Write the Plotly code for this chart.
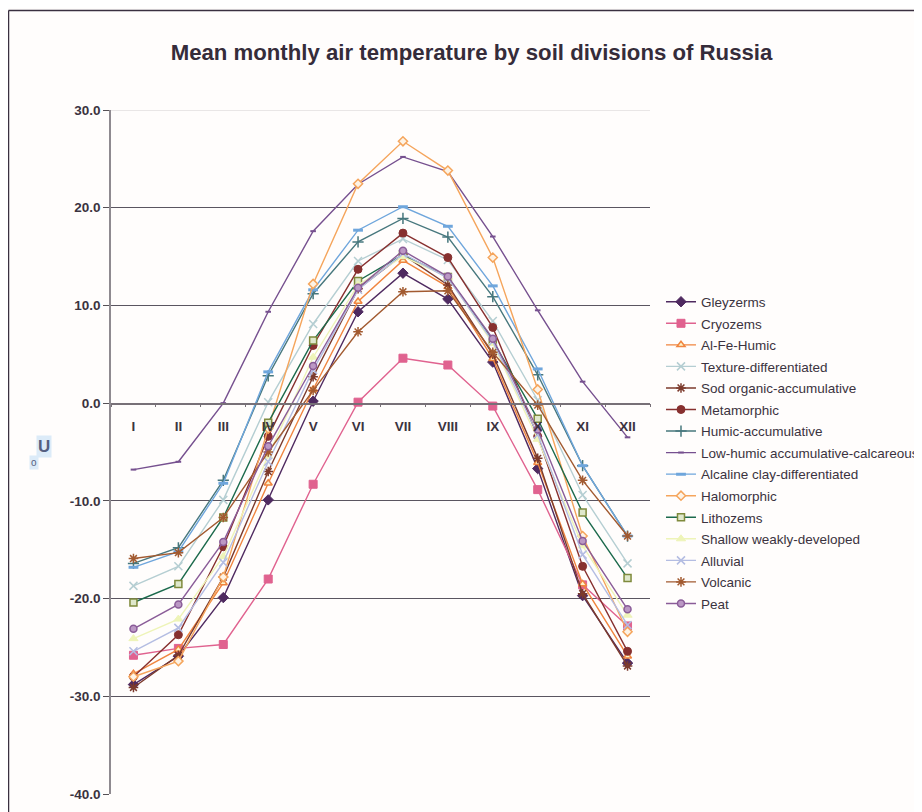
import plotly.graph_objects as go

title = "Mean monthly air temperature by soil divisions of Russia"
months = ["I", "II", "III", "IV", "V", "VI", "VII", "VIII", "IX", "X", "XI", "XII"]

gleyzerms = [-28.8, -25.9, -19.9, -9.9, 0.2, 9.35, 13.3, 10.65, 4.2, -6.7, -19.7, -26.6]
cryozems = [-25.8, -25.1, -24.7, -18.0, -8.3, 0.1, 4.6, 3.9, -0.3, -8.85, -18.6, -22.8]
al_fe_humic = [-27.7, -25.2, -18.4, -8.2, 1.4, 10.4, 14.6, 11.9, 4.55, -6.1, -18.5, -25.9]
texture_diff = [-18.7, -16.7, -9.9, 0.1, 8.1, 14.55, 16.8, 14.65, 8.4, 0.3, -9.4, -16.4]
sod_organic = [-29.1, -25.8, -17.8, -7.0, 2.7, 11.7, 15.2, 12.1, 5.0, -5.65, -19.5, -26.9]
metamorphic = [-28.0, -23.7, -14.7, -3.4, 5.9, 13.7, 17.4, 14.9, 7.75, -3.4, -16.7, -25.4]
humic_accum = [-16.4, -14.8, -7.9, 2.8, 11.2, 16.5, 18.9, 17.0, 10.9, 2.9, -6.4, -13.6]
low_humic = [-6.8, -6.0, 0.0, 9.35, 17.6, 22.4, 25.2, 23.7, 17.05, 9.5, 2.2, -3.5]
alcaline = [-16.8, -15.2, -8.2, 3.2, 11.6, 17.7, 20.1, 18.1, 12.0, 3.5, -6.4, -13.6]
halomorphic = [-28.0, -26.4, -17.8, -2.6, 12.2, 22.45, 26.8, 23.8, 14.9, 1.4, -13.6, -23.4]
lithozems = [-20.4, -18.5, -11.7, -2.0, 6.4, 12.5, 15.2, 12.9, 6.4, -1.6, -11.2, -17.9]
shallow = [-24.1, -22.1, -15.7, -5.4, 4.7, 12.1, 15.0, 12.9, 6.1, -3.7, -14.6, -21.7]
alluvial = [-25.4, -23.0, -16.3, -6.0, 3.4, 11.6, 15.3, 12.8, 6.3, -3.2, -15.5, -22.7]
volcanic = [-15.9, -15.3, -11.7, -5.0, 1.3, 7.3, 11.4, 11.5, 5.2, -0.2, -7.9, -13.6]
peat = [-23.1, -20.6, -14.2, -4.4, 3.8, 11.8, 15.6, 12.95, 6.6, -2.7, -14.1, -21.1]

# name, values, line colour, marker symbol, marker fill, marker edge, size, edge width
series = [
    ("Gleyzerms", gleyzerms, "#4f2a60", "diamond", "#4f2a60", "#4f2a60", 8, 1),
    ("Cryozems", cryozems, "#e0628f", "square", "#e0628f", "#e0628f", 8, 1),
    ("Al-Fe-Humic", al_fe_humic, "#f0853f", "triangle-up", "#fdf3c8", "#f0853f", 7, 1.5),
    ("Texture-differentiated", texture_diff, "#b5ced2", "x-thin-open", "#b5ced2", "#b5ced2", 8, 1.5),
    ("Sod organic-accumulative", sod_organic, "#7c3a2c", "asterisk-open", "#7c3a2c", "#7c3a2c", 8, 1.5),
    ("Metamorphic", metamorphic, "#87302f", "circle", "#87302f", "#87302f", 8, 1),
    ("Humic-accumulative", humic_accum, "#47777d", "cross-thin-open", "#47777d", "#47777d", 8, 1.5),
    ("Low-humic accumulative-calcareous", low_humic, "#76508f", "line-ew-open", "#76508f", "#76508f", 4, 2),
    ("Alcaline clay-differentiated", alcaline, "#6fa6dc", "line-ew-open", "#6fa6dc", "#6fa6dc", 7, 3),
    ("Halomorphic", halomorphic, "#f5a55c", "diamond", "#fdf3e6", "#f5a55c", 7, 1.5),
    ("Lithozems", lithozems, "#1c6a4c", "square", "#dfe8cc", "#7f8a3c", 7, 1.5),
    ("Shallow weakly-developed", shallow, "#eef4b8", "triangle-up", "#eef4b8", "#eef4b8", 8, 1),
    ("Alluvial", alluvial, "#b4bde2", "x-thin-open", "#b4bde2", "#b4bde2", 8, 1.5),
    ("Volcanic", volcanic, "#a25a30", "asterisk-open", "#a25a30", "#a25a30", 8, 1.5),
    ("Peat", peat, "#8a5c98", "circle", "#bb98c4", "#8a5c98", 7, 1.5),
]

fig = go.Figure()
for name, values, color, symbol, fill, edge, size, edge_width in series:
    fig.add_trace(go.Scatter(
        x=months,
        y=values,
        name=name,
        legendgroup=name,
        mode="lines+markers",
        line={"color": color, "width": 1.4},
        marker={"symbol": symbol, "color": fill, "size": size,
                "line": {"color": edge, "width": edge_width}},
    ))

text_color = "#3b3340"
# page body adds 8px around the figure; extra width on the right keeps the long legend entry whole
fig.update_layout(
    width=914,
    height=804,
    paper_bgcolor="#fffdfc",
    plot_bgcolor="#fffdfc",
    font={"family": "Liberation Sans", "color": text_color},
    title={"text": "<b>" + title + "</b>", "font": {"size": 22.2, "color": "#352c3a"},
           "x": 463.5 / 914, "xanchor": "center", "y": 1 - 44 / 804, "yanchor": "middle"},
    margin={"l": 103, "r": 272, "t": 102, "b": 18, "autoexpand": False},
    legend={"x": 1.0204, "xanchor": "left", "y": 0.742, "yanchor": "top",
            "font": {"size": 13.5, "color": text_color}, "itemwidth": 30,
            "tracegroupgap": 1.0, "bgcolor": "rgba(0,0,0,0)"},
    shapes=[
        # outer frame of the chart area
        {"type": "line", "xref": "paper", "yref": "paper", "x0": -102.5 / 539, "x1": -102.5 / 539,
         "y0": -18 / 684, "y1": 783.5 / 684, "line": {"color": "#3a3040", "width": 1.5}},
        {"type": "line", "xref": "paper", "yref": "paper", "x0": -102.5 / 539, "x1": 811 / 539,
         "y0": 783.5 / 684, "y1": 783.5 / 684, "line": {"color": "#3a3040", "width": 1.5}},
        # top gridline is much fainter than the others
        {"type": "line", "xref": "paper", "yref": "y", "x0": 0, "x1": 1,
         "y0": 30, "y1": 30, "line": {"color": "#d4d0d0", "width": 1}},
    ],
    annotations=[
        {"text": "<b>U</b>", "xref": "paper", "yref": "paper", "x": -67 / 539, "y": 348 / 684,
         "xanchor": "center", "yanchor": "middle", "showarrow": False,
         "font": {"size": 17, "color": "#555f80"}, "bgcolor": "#dcebf8"},
        {"text": "o", "xref": "paper", "yref": "paper", "x": -77 / 539, "y": 332 / 684,
         "xanchor": "center", "yanchor": "middle", "showarrow": False,
         "font": {"size": 10, "color": "#555f80"}, "bgcolor": "#dcebf8"},
    ],
)
fig.update_xaxes(
    type="category",
    categoryorder="array",
    categoryarray=months,
    range=[-0.5, 11.5],
    anchor="free",
    position=(794 - 403.6) / 684,
    tickson="boundaries",
    ticks="outside",
    ticklen=3,
    tickcolor="#777077",
    ticklabelstandoff=10,
    showline=True,
    linecolor="#777077",
    linewidth=1.5,
    showgrid=False,
    zeroline=False,
    tickfont={"size": 13.5, "color": text_color, "family": "Liberation Sans", "weight": "bold"},
)
fig.update_yaxes(
    range=[-40, 30],
    tickmode="array",
    tickvals=[30, 20, 10, 0, -10, -20, -30, -40],
    ticktext=["30.0", "20.0", "10.0", "0.0", "-10.0", "-20.0", "-30.0", "-40.0"],
    ticks="outside",
    ticklen=6,
    tickcolor="#555055",
    showline=True,
    linecolor="#8f8a90",
    linewidth=1.5,
    gridcolor="#5a5560",
    gridwidth=1,
    zeroline=False,
    tickfont={"size": 13.5, "color": text_color, "family": "Liberation Sans", "weight": "bold"},
)

fig.write_html("out.html")
